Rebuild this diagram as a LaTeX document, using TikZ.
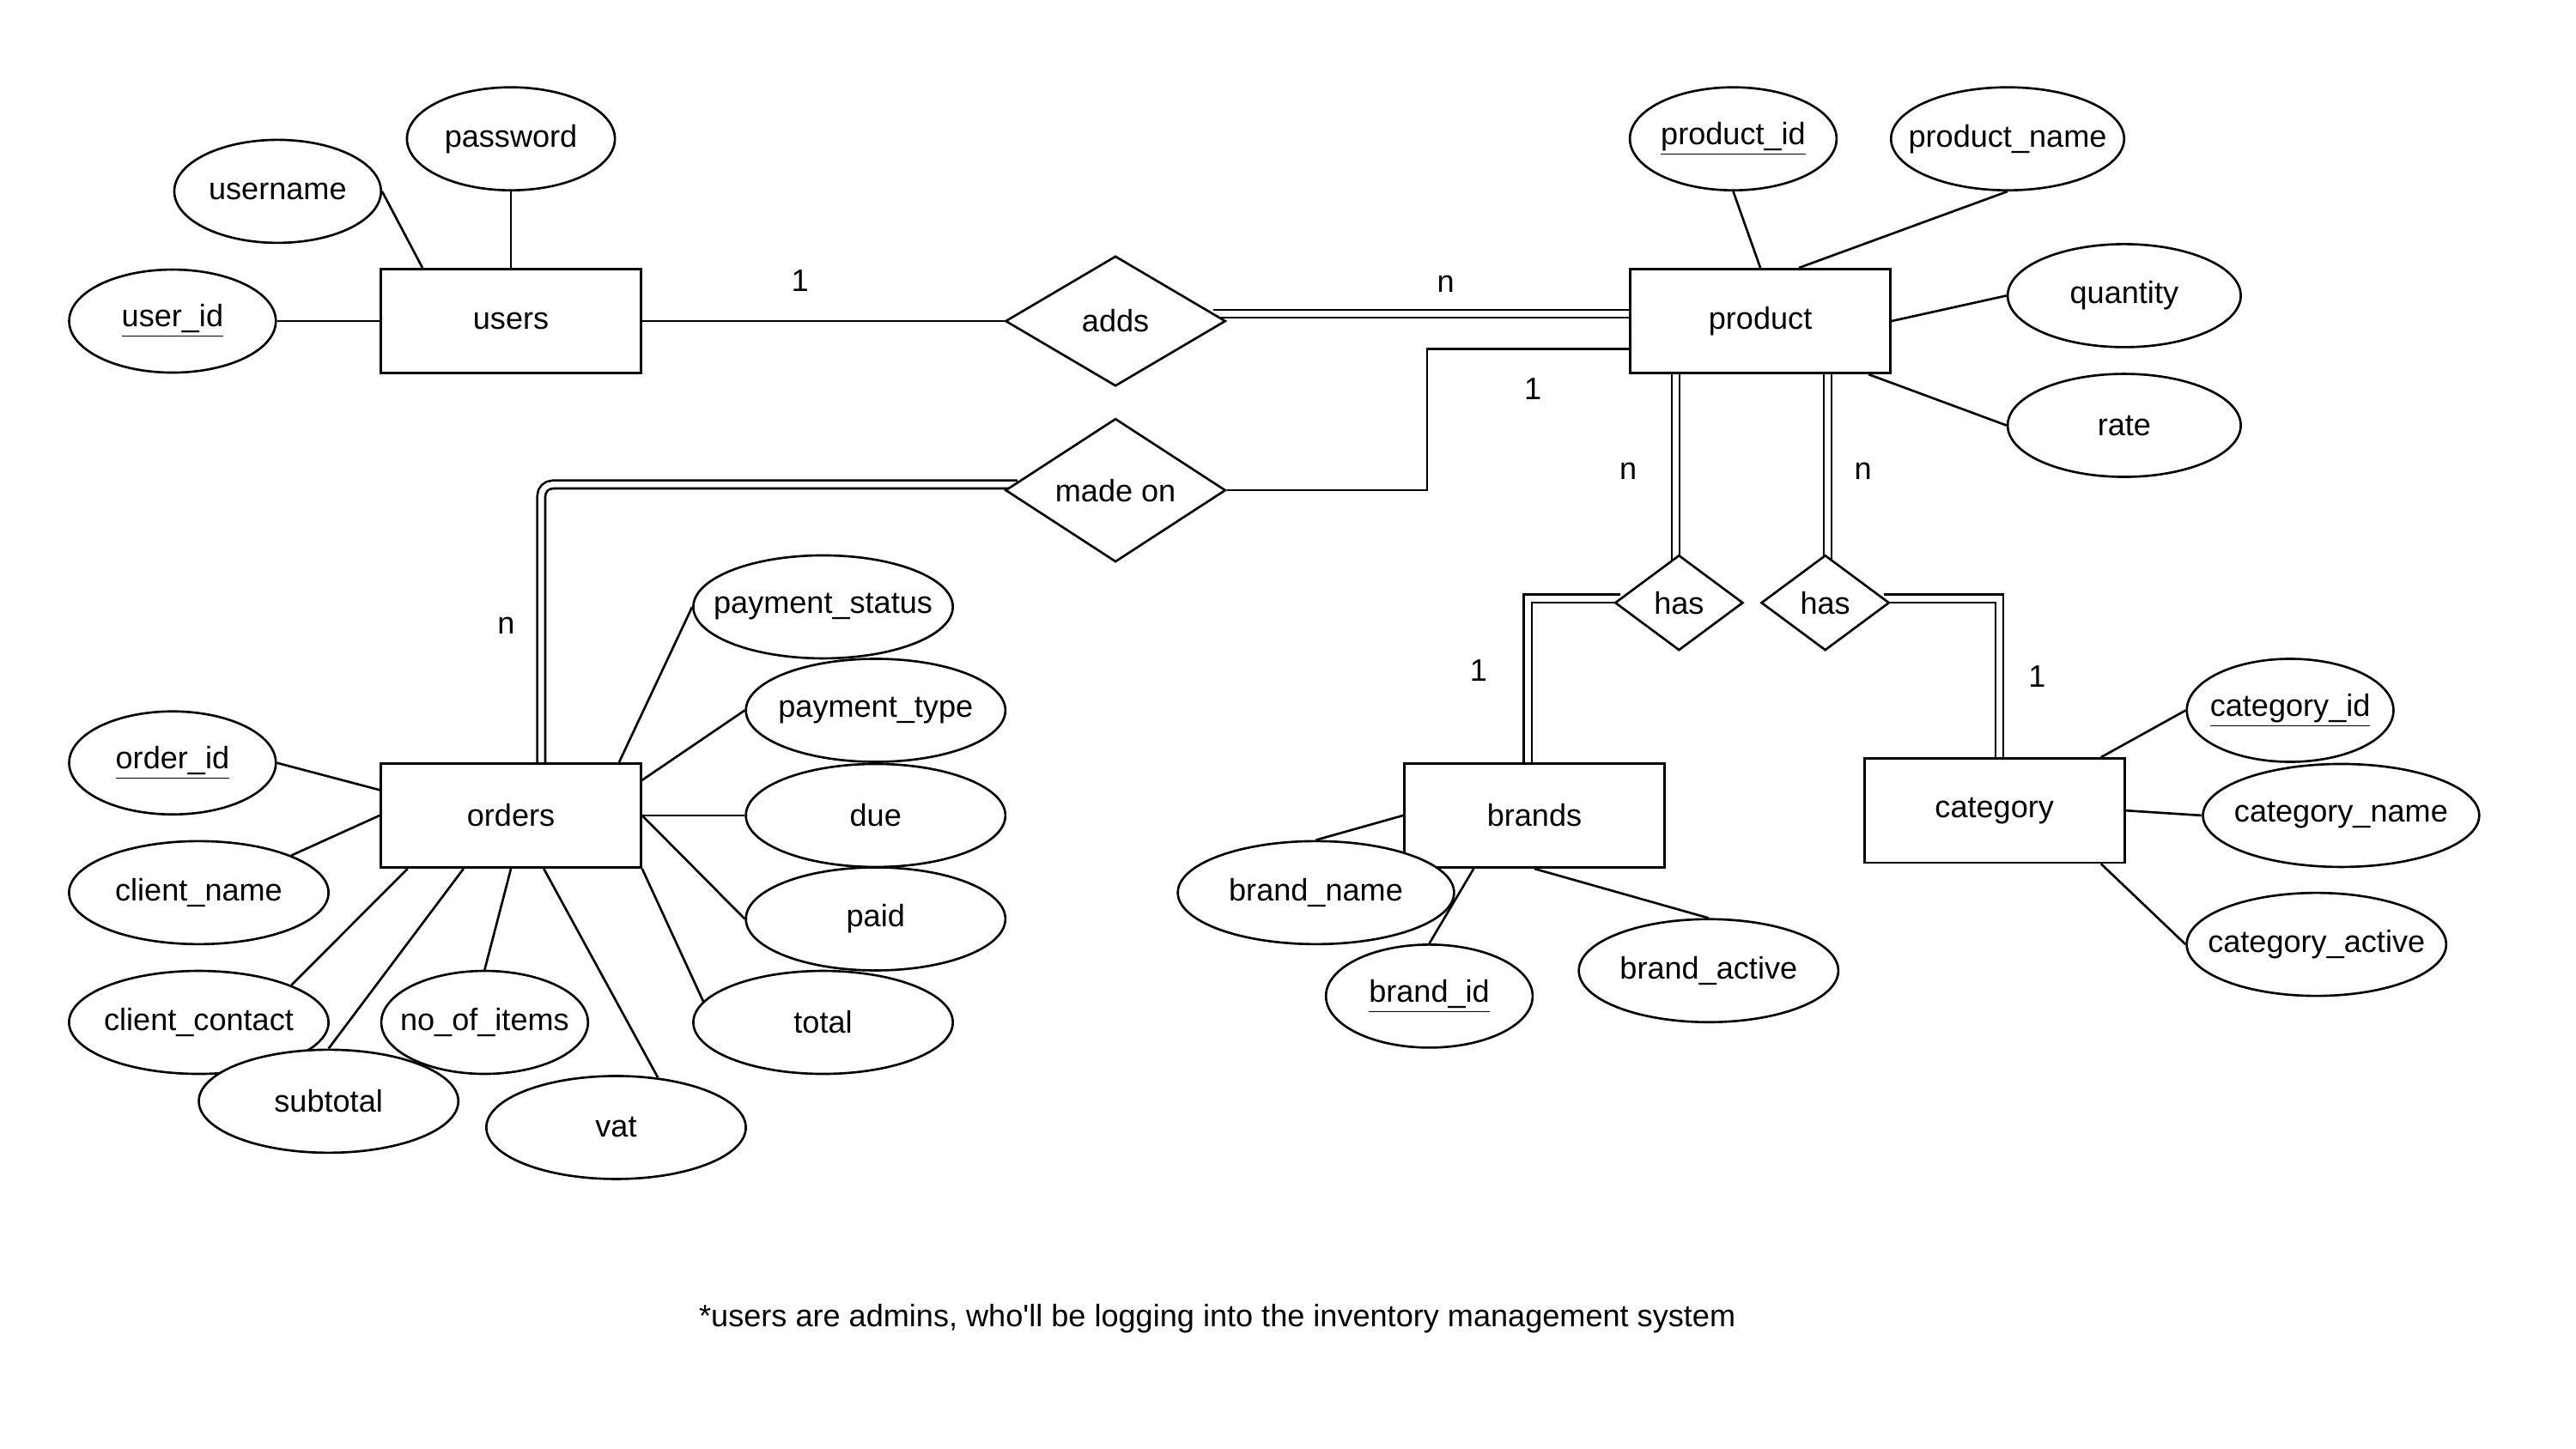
\documentclass[tikz,border=0pt]{standalone}
\usepackage{fontspec}
\setmainfont{Liberation Sans}
\usetikzlibrary{shapes.geometric,calc,backgrounds}
\newcommand{\ctrtext}[1]{\makebox[0pt]{#1}}
\tikzset{
  entity/.style={draw, fill=white, line width=1pt, minimum width=4.04cm, minimum height=1.62cm, inner sep=0pt},
  attr/.style={ellipse, draw, fill=white, line width=1pt, minimum width=#1, minimum height=1.6cm, inner sep=0pt},
  rel/.style={diamond, draw, fill=white, line width=1pt, minimum width=3.42cm, minimum height=2.02cm, inner sep=0pt},
  smallrel/.style={rel, minimum width=1.99cm, minimum height=1.48cm},
  link/.style={line width=1pt},
  dbl/.style={line width=1pt, double, double distance=2.5pt},
}
\begin{document}
\begin{tikzpicture}[x=0.025510cm,y=-0.025510cm,font=\fontsize{13.7}{16.5}\selectfont]
\useasboundingbox (0,0) rectangle (1568,882);
% entities
\node[entity] (users) at (311,195.5) {users};
\node[entity] (product) at (1071.5,195.5) {product};
\node[entity] (orders) at (311,496.5) {orders};
\node[entity] (brands) at (934,496.5) {brands};
\node[entity] (category) at (1214,493.5) {category};
% relations
\node[rel] (adds) at (679,195.5) {adds};
\node[rel] (madeon) at (679,298.5) {made on};
\node[smallrel] (has1) at (1022,367) {has};
\node[smallrel] (has2) at (1111,367) {has};
% users attributes
\node[attr=3.21cm] (user_id) at (105,195.5) {\ctrtext{\underline{user\_id}}};
\node[attr=3.21cm] (username) at (169,116.5) {\ctrtext{username}};
\node[attr=3.23cm] (password) at (311,84.5) {\ctrtext{password}};
% product attributes
\node[attr=3.21cm] (product_id) at (1055,84.5) {\ctrtext{\underline{product\_id}}};
\node[attr=3.62cm] (product_name) at (1222,84.5) {\ctrtext{product\_name}};
\node[attr=3.62cm] (quantity) at (1293,180) {\ctrtext{quantity}};
\node[attr=3.62cm] (rate) at (1293,259) {\ctrtext{rate}};
% orders attributes
\node[attr=3.21cm] (order_id) at (105,464.5) {\ctrtext{\underline{order\_id}}};
\node[attr=4.03cm] (client_name) at (121,543.5) {\ctrtext{client\_name}};
\node[attr=4.03cm] (client_contact) at (121,622.5) {\ctrtext{client\_contact}};
\node[attr=3.21cm] (no_of_items) at (295,622.5) {\ctrtext{no\_of\_items}};
\node[attr=4.03cm] (subtotal) at (200,670.5) {\ctrtext{subtotal}};
\node[attr=4.03cm] (vat) at (375,686.5) {\ctrtext{vat}};
\node[attr=4.03cm] (total) at (501,622.5) {\ctrtext{total}};
\node[attr=4.03cm] (paid) at (533,559.5) {\ctrtext{paid}};
\node[attr=4.03cm] (due) at (533,496.5) {\ctrtext{due}};
\node[attr=4.03cm] (payment_type) at (533,432.5) {\ctrtext{payment\_type}};
\node[attr=4.03cm] (payment_status) at (501,369.5) {\ctrtext{payment\_status}};
% brands attributes
\node[attr=4.29cm] (brand_name) at (801,543.5) {\ctrtext{brand\_name}};
\node[attr=3.21cm] (brand_id) at (870,606.5) {\ctrtext{\underline{brand\_id}}};
\node[attr=4.03cm] (brand_active) at (1040,591) {\ctrtext{brand\_active}};
% category attributes
\node[attr=3.21cm] (category_id) at (1394,432.5) {\ctrtext{\underline{category\_id}}};
\node[attr=4.29cm] (category_name) at (1425,496.5) {\ctrtext{category\_name}};
\node[attr=4.03cm] (category_active) at (1410,575) {\ctrtext{category\_active}};
% cardinalities
\node (c1) at (487,171) {1};
\node (c2) at (880,173) {n};
\node (c3) at (933,237) {1};
\node (c4) at (308,381) {n};
\node (c5) at (991,287) {n};
\node (c6) at (1134,287) {n};
\node (c7) at (900,408) {1};
\node (c8) at (1240,412) {1};
\node (note) at (741,803) {*users are admins, who\textquotesingle ll be logging into the inventory management system};
% connectors
\begin{scope}[on background layer]
\draw[link] (user_id.east) -- (users.west);
\draw[link] (username.east) -- ($(users.north west)+(26,0)$);
\draw[link] (password.south) -- (users.north);
\draw[link] (users.east) -- (adds.west);
\draw[dbl] ($(adds.east)+(-8,-4.5)$) -- ($(product.west)+(0,-4.5)$);
\draw[link] (madeon.east) -- ++(122,0) |- ($(product.west)+(0,17)$);
\draw[dbl,rounded corners=5pt] ($(madeon.west)+(8,-3.5)$) -| ($(orders.north)+(18.5,0)$);
\draw[link] (product_id.south) -- (product.north);
\draw[link] (product_name.south) -- ($(product.north)+(23.5,0)$);
\draw[link] (quantity.west) -- (product.east);
\draw[link] (rate.west) -- ($(product.south east)+(-14,0)$);
\draw[dbl] ($(has1.north |- product.south)+(-2,0)$) -- ($(has1.north)+(-2,4)$);
\draw[dbl] ($(has2.north |- product.south)+(1.5,0)$) -- ($(has2.north)+(1.5,4)$);
\draw[dbl] ($(has1.west)+(4,-2.5)$) -| ($(brands.north)+(-4,0)$);
\draw[dbl] ($(has2.east)+(-4,-2.5)$) -| ($(category.north)+(3,3)$);
\draw[link] (order_id.east) -- ($(orders.west)+(0,-15.5)$);
\draw[link] (client_name.north east) -- (orders.west);
\draw[link] (client_contact.north east) -- ($(orders.south west)+(17,0)$);
\draw[link] (subtotal.north) -- ($(orders.south west)+(51,0)$);
\draw[link] (no_of_items.north) -- (orders.south);
\draw[link] (vat.50) -- ($(orders.south)+(20,0)$);
\draw[link] (total.170) -- (orders.south east);
\draw[link] (paid.west) -- (orders.east);
\draw[link] (due.west) -- (orders.east);
\draw[link] (payment_type.west) -- ($(orders.east)+(0,-21.5)$);
\draw[link] (payment_status.west) -- ($(orders.north east)+(-14,0)$);
\draw[link] (brand_name.north) -- (brands.west);
\draw[link] (brand_id.north) -- ($(brands.south)+(-37,0)$);
\draw[link] (brand_active.north) -- (brands.south);
\draw[link] (category_id.west) -- ($(category.north east)+(-15,0)$);
\draw[link] (category_name.west) -- (category.east);
\draw[link] (category_active.west) -- ($(category.south east)+(-15,0)$);
\end{scope}
\end{tikzpicture}
\end{document}
